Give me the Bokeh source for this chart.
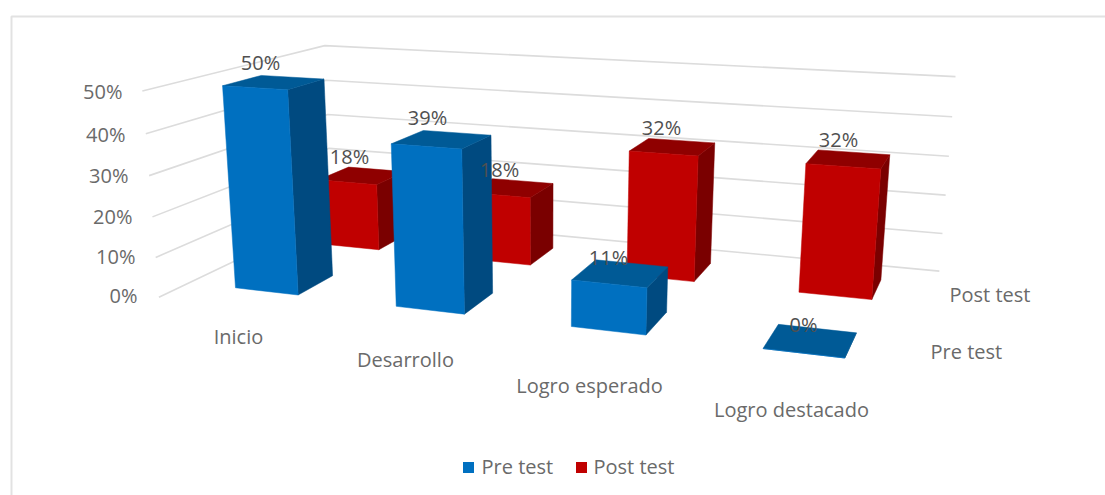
from bokeh.plotting import figure
from bokeh.embed import file_html
from bokeh.resources import INLINE
from bokeh.core.properties import value

categories = ["Inicio", "Desarrollo", "Logro esperado", "Logro destacado"]
pre_test = [50, 39, 11, 0]
post_test = [18, 18, 32, 32]
series_names = ["Pre test", "Post test"]
ticks = [0, 10, 20, 30, 40, 50]
tick_labels = ["0%", "10%", "20%", "30%", "40%", "50%"]

# projective camera of the 3D scene: (category, series depth, percent) -> screen
P = [147.6204011, 125.1785003, -0.4485278, 158.3923829, 6.0382003, -16.4912936,
     -4.2020037, 296.8260514, -0.0421381, 0.1164338, -0.0008294]

def proj(u, v, w):
    d = P[8]*u + P[9]*v + P[10]*w + 1
    return (P[0]*u + P[1]*v + P[2]*w + P[3]) / d, (P[4]*u + P[5]*v + P[6]*w + P[7]) / d

FONT = "Open Sans"
TXT = "#6a6a6a"
DARK = "#505050"
SIZE = "20px"
GRID = "#dcdcdc"

W, H = 1105, 495
p = figure(width=W, height=H, x_range=(0, W), y_range=(H, 0),
           output_backend="svg", toolbar_location=None, min_border=0,
           background_fill_color="white", border_fill_color="white")
p.axis.visible = False
p.grid.visible = False
p.outline_line_color = None

# chart frame
p.line([11, 11, W], [H, 16, 16], line_color="#e2e2e2", line_width=2)

# walls' gridlines
for t in ticks:
    pts = [proj(0, 0, t), proj(0, 2, t), proj(4, 2, t)]
    p.line([a[0] for a in pts], [a[1] for a in pts], line_color=GRID, line_width=1.6)

def bar(cat, depth, val, front, side, top):
    u0, u1, v0, v1 = cat + .3, cat + .7, depth + .3, depth + .7
    faces = [
        ([(u1, v0, 0), (u1, v1, 0), (u1, v1, val), (u1, v0, val)], side),
        ([(u0, v0, val), (u1, v0, val), (u1, v1, val), (u0, v1, val)], top),
        ([(u0, v0, 0), (u1, v0, 0), (u1, v0, val), (u0, v0, val)], front),
    ]
    for corners, col in faces:
        q = [proj(*c) for c in corners]
        p.patch([a[0] for a in q], [a[1] for a in q], fill_color=col, line_color=col, line_width=0.5)

for i, val in enumerate(post_test):
    bar(i, 1, val, "#c00000", "#7a0000", "#8f0000")
for i, val in enumerate(pre_test):
    bar(i, 0, val, "#0070c0", "#004a80", "#005a96")

def label(x, y, s, color=TXT, align="center", size=SIZE):
    p.text([x], [y], text=[s], text_font=value(FONT), text_font_size=size, text_color=color,
           text_align=align, text_baseline="middle")

# value axis labels
tick_right = [137, 135, 132, 128, 125, 122]
tick_y = [295, 256, 216, 175, 134, 91]
for s, x, y in zip(tick_labels, tick_right, tick_y):
    label(x, y, s, align="right")

# category labels
cat_x = [238, 405, 589, 791]
cat_y = [336, 359, 385, 409]
for s, x, y in zip(categories, cat_x, cat_y):
    label(x, y, s)

# series (depth axis) labels
label(949, 294, series_names[1], align="left")
label(930, 351, series_names[0], align="left")

# data labels
pre_pos = [(260, 62), (427, 117), (608, 257), (803, 324)]
post_pos = [(349, 156), (499, 169), (661, 127), (838, 139)]
for val, (x, y) in zip(pre_test + post_test, pre_pos + post_pos):
    label(x, y, f"{val}%", color=DARK)

# legend
p.scatter([468], [467], marker="square", size=11, fill_color="#0070c0", line_color="#0070c0", line_width=0)
p.scatter([581], [467], marker="square", size=11, fill_color="#c00000", line_color="#c00000", line_width=0)
label(481, 466, series_names[0], align="left")
label(593, 466, series_names[1], align="left")

open("out.html", "w").write(file_html(p, INLINE))
